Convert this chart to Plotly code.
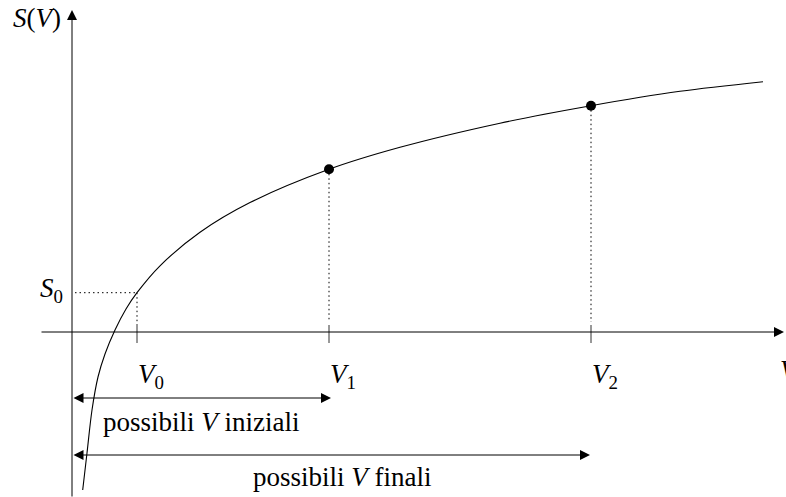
import plotly.graph_objects as go

# Curve S(V), points
curve_v = [0.107, 0.15, 0.20, 0.26, 0.33, 0.43, 0.54, 0.65, 0.88, 1.28, 1.78, 2.57, 3.28, 4.28, 5.19, 6.08, 6.91]
curve_s = [-1.58, -1.21, -0.78, -0.45, -0.22, 0.02, 0.23, 0.393, 0.662, 0.997, 1.294, 1.627, 1.847, 2.088, 2.263, 2.407, 2.503]

# Marked states
v_marks = [0.65, 2.57, 5.19]
v_labels = ["<i>V</i><sub>0</sub>", "<i>V</i><sub>1</sub>", "<i>V</i><sub>2</sub>"]
s0 = 0.393
s_marks = [1.627, 2.263]  # S(V1), S(V2)

# Ranges of V shown by the double arrows
range_iniziali = [0.0, 2.59]
range_finali = [0.0, 5.18]

FONT = "Liberation Serif"
XR = [-0.72, 7.14]
YR = [-1.65, 3.32]
DOT = "1.5px,3px"

fig = go.Figure()

# curve
fig.add_trace(go.Scatter(x=curve_v, y=curve_s, mode="lines",
                         line=dict(color="black", width=1.1, shape="spline", smoothing=0.9),
                         hoverinfo="skip", showlegend=False))
# points on the curve
fig.add_trace(go.Scatter(x=v_marks[1:], y=s_marks, mode="markers",
                         marker=dict(color="black", size=10),
                         hoverinfo="skip", showlegend=False))

shapes = []
# dotted guides
shapes.append(dict(type="line", x0=0.03, x1=v_marks[0], y0=s0, y1=s0,
                   line=dict(color="black", width=1, dash=DOT)))
shapes.append(dict(type="line", x0=v_marks[0], x1=v_marks[0], y0=s0, y1=0.07,
                   line=dict(color="black", width=1, dash=DOT)))
for v, s in zip(v_marks[1:], s_marks):
    shapes.append(dict(type="line", x0=v, x1=v, y0=s, y1=0.1,
                       line=dict(color="black", width=1, dash=DOT)))
# ticks on the V axis
for v in v_marks:
    shapes.append(dict(type="line", x0=v, x1=v, y0=0.07, y1=-0.11,
                       line=dict(color="#333", width=1)))
fig.update_layout(shapes=shapes)

ann = []
# axes with arrow heads
ann.append(dict(x=7.12, y=0, ax=-0.32, ay=0, xref="x", yref="y", axref="x", ayref="y",
                showarrow=True, arrowhead=2, arrowsize=2, arrowwidth=1, arrowcolor="black", text=""))
ann.append(dict(x=0, y=3.22, ax=0, ay=-1.66, xref="x", yref="y", axref="x", ayref="y",
                showarrow=True, arrowhead=2, arrowsize=2, arrowwidth=1, arrowcolor="black", text=""))
# double arrows
for rng, yv in ((range_iniziali, -0.66), (range_finali, -1.23)):
    ann.append(dict(x=rng[1], y=yv, ax=rng[0], ay=yv, xref="x", yref="y", axref="x", ayref="y",
                    showarrow=True, arrowhead=2, startarrowhead=2, arrowside="end+start",
                    arrowsize=2, startarrowsize=2, arrowwidth=1, arrowcolor="black", text=""))

fs = 27
def label(text, x, y, xanchor="center"):
    ann.append(dict(x=x, y=y, xref="x", yref="y", text=text, showarrow=False,
                    xanchor=xanchor, yanchor="middle", font=dict(family=FONT, size=fs, color="black")))

label("<i>S</i>(<i>V</i>)", -0.09, 3.14, "right")
label("<i>S</i><sub>0</sub>", -0.07, 0.42, "right")
for v, t in zip(v_marks, v_labels):
    label(t, v + 0.14, -0.44)
label("<i>V</i>", 7.06, -0.38, "left")
label("possibili <i>V</i> iniziali", 1.29, -0.90)
label("possibili <i>V</i> finali", 2.70, -1.45)

fig.update_layout(annotations=ann)
fig.update_layout(
    width=786, height=497,
    margin=dict(l=0, r=0, t=0, b=0),
    paper_bgcolor="white", plot_bgcolor="white",
    xaxis=dict(range=XR, visible=False, fixedrange=True),
    yaxis=dict(range=YR, visible=False, fixedrange=True),
)

fig.write_html("out.html")
